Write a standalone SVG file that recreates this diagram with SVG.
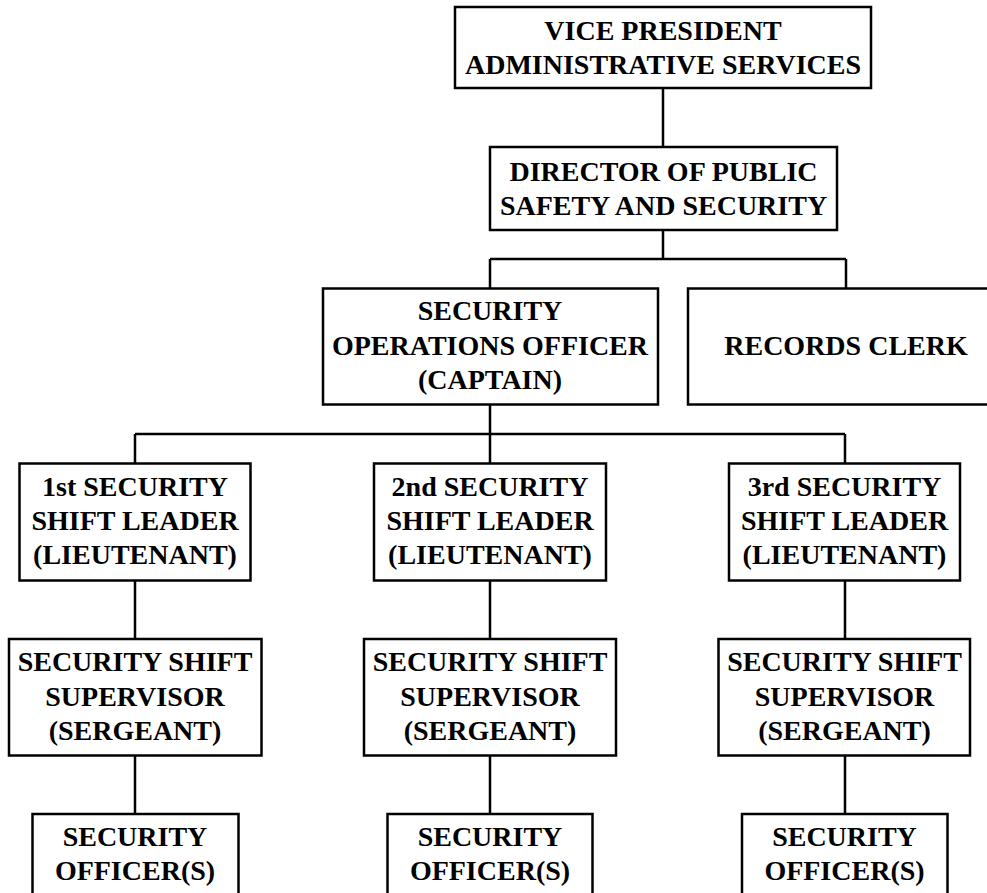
<svg xmlns="http://www.w3.org/2000/svg" width="987" height="893" viewBox="0 0 987 893">
<style>
.box{fill:#fff;stroke:#000;stroke-width:2.5}
.t{font-family:"Liberation Serif","Times New Roman",serif;font-weight:bold;font-size:28px;fill:#000;text-anchor:middle}
.c{stroke:#000;stroke-width:2.5;fill:none}
</style>
<rect width="987" height="893" fill="#fff"/>
<g id="connectors">
<path class="c" d="M663,88V147M663,230V259M490,259H846M490,259V289M846,259V289"/>
<path class="c" d="M490,404V434M135,434H845M135,434V463M490,434V463M845,434V463"/>
<path class="c" d="M135,581V639M490,581V639M845,581V639"/>
<path class="c" d="M135,755V814M490,755V814M845,755V814"/>
</g>
<g id="vp"><rect class="box" x="455" y="7" width="416" height="81"/>
<text class="t" x="663" y="40">VICE PRESIDENT</text><text class="t" x="663" y="74">ADMINISTRATIVE SERVICES</text></g>
<g id="director"><rect class="box" x="490" y="147" width="347" height="83"/>
<text class="t" x="663.5" y="181">DIRECTOR OF PUBLIC</text><text class="t" x="663.5" y="215">SAFETY AND SECURITY</text></g>
<g id="captain"><rect class="box" x="323" y="288.5" width="335" height="116"/>
<text class="t" x="490" y="320">SECURITY</text><text class="t" x="490" y="355">OPERATIONS OFFICER</text><text class="t" x="490" y="389">(CAPTAIN)</text></g>
<g id="records"><rect class="box" x="688" y="288.5" width="320" height="116"/>
<text class="t" x="846" y="355">RECORDS CLERK</text></g>
<g id="lt1"><rect class="box" x="19.5" y="463.5" width="231" height="117"/>
<text class="t" x="135" y="496">1st SECURITY</text><text class="t" x="135" y="530">SHIFT LEADER</text><text class="t" x="135" y="564">(LIEUTENANT)</text></g>
<g id="lt2"><rect class="box" x="374" y="463.5" width="232" height="117"/>
<text class="t" x="490" y="496">2nd SECURITY</text><text class="t" x="490" y="530">SHIFT LEADER</text><text class="t" x="490" y="564">(LIEUTENANT)</text></g>
<g id="lt3"><rect class="box" x="729" y="463.5" width="231" height="117"/>
<text class="t" x="844.5" y="496">3rd SECURITY</text><text class="t" x="844.5" y="530">SHIFT LEADER</text><text class="t" x="844.5" y="564">(LIEUTENANT)</text></g>
<g id="sg1"><rect class="box" x="9" y="639" width="252.5" height="116.5"/>
<text class="t" x="135" y="671">SECURITY SHIFT</text><text class="t" x="135" y="705.5">SUPERVISOR</text><text class="t" x="135" y="740">(SERGEANT)</text></g>
<g id="sg2"><rect class="box" x="364" y="639" width="252" height="116.5"/>
<text class="t" x="490" y="671">SECURITY SHIFT</text><text class="t" x="490" y="705.5">SUPERVISOR</text><text class="t" x="490" y="740">(SERGEANT)</text></g>
<g id="sg3"><rect class="box" x="718.5" y="639" width="251.5" height="116.5"/>
<text class="t" x="844.5" y="671">SECURITY SHIFT</text><text class="t" x="844.5" y="705.5">SUPERVISOR</text><text class="t" x="844.5" y="740">(SERGEANT)</text></g>
<g id="of1"><rect class="box" x="32.5" y="814" width="206" height="90"/>
<text class="t" x="135" y="846">SECURITY</text><text class="t" x="135" y="880">OFFICER(S)</text></g>
<g id="of2"><rect class="box" x="387.5" y="814" width="205" height="90"/>
<text class="t" x="490" y="846">SECURITY</text><text class="t" x="490" y="880">OFFICER(S)</text></g>
<g id="of3"><rect class="box" x="742" y="814" width="205.5" height="90"/>
<text class="t" x="844.5" y="846">SECURITY</text><text class="t" x="844.5" y="880">OFFICER(S)</text></g>
</svg>
